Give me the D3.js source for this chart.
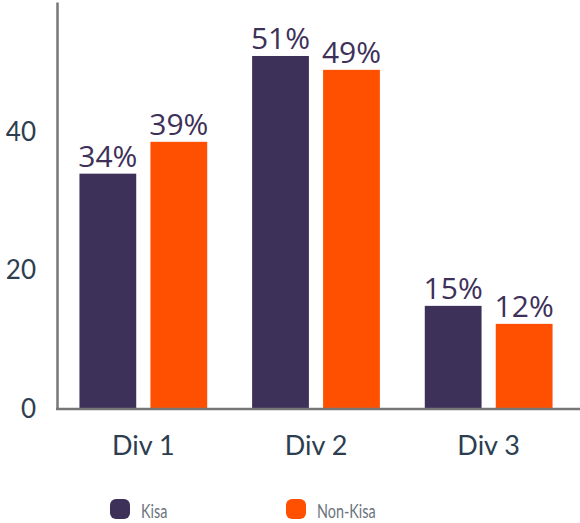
<!DOCTYPE html>
<html>
<head>
<meta charset="utf-8">
<script src="https://cdn.jsdelivr.net/npm/d3@7"></script>
<style>
  body { margin: 0; background: #fff; }
  svg { display: block; }
</style>
</head>
<body>
<div id="chart"></div>
<script>
(function () {

    var categories = ["Div 1", "Div 2", "Div 3"];
    var seriesNames = ["Kisa", "Non-Kisa"];
    var kisaValues = [34, 51, 14.9];
    var nonKisaValues = [38.6, 49, 12.3];
    var kisaLabels = ["34%", "51%", "15%"];
    var nonKisaLabels = ["39%", "49%", "12%"];
    var yTicks = [0, 20, 40];

    var colors = ["#3d3159", "#fe5000"];

    var width = 580;
    var height = 523;
    var left = 57, right = 575, top = 2, bottom = 409;

    var rows = [];
    categories.forEach(function (c, i) {
        rows.push({ cat: c, series: 0, value: kisaValues[i], label: kisaLabels[i] });
        rows.push({ cat: c, series: 1, value: nonKisaValues[i], label: nonKisaLabels[i] });
    });

    var x0 = d3.scaleBand()
        .domain(categories)
        .range([left, right])
        .paddingInner(0.26)
        .paddingOuter(0.13);

    var x1 = d3.scaleBand()
        .domain([0, 1])
        .range([0, x0.bandwidth()])
        .paddingInner(0.2);

    var y = d3.scaleLinear()
        .domain([0, 58.8])
        .range([bottom, top]);

    var svg = d3.select("#chart").append("svg")
        .attr("width", width)
        .attr("height", height);

    // bars
    svg.selectAll("rect.bar")
        .data(rows)
        .enter()
        .append("rect")
        .attr("class", "bar")
        .attr("x", d => x0(d.cat) + x1(d.series))
        .attr("y", d => y(d.value))
        .attr("width", x1.bandwidth())
        .attr("height", d => y(0) - y(d.value))
        .attr("fill", d => colors[d.series]);

    // value labels
    svg.selectAll("text.val")
        .data(rows)
        .enter()
        .append("text")
        .attr("class", "val")
        .attr("x", d => x0(d.cat) + x1(d.series) + x1.bandwidth() / 2)
        .attr("y", d => y(d.value) - 7)
        .attr("text-anchor", "middle")
        .attr("font-family", "'Open Sans', 'Noto Sans', sans-serif")
        .attr("font-size", 30)
        .attr("fill", "#3d3159")
        .text(d => d.label);

    // y axis
    var yAxis = d3.axisLeft(y)
        .tickValues(yTicks)
        .tickSize(0)
        .tickPadding(21)
        .tickFormat(d3.format("d"));

    var gy = svg.append("g")
        .attr("transform", "translate(" + left + ",0)")
        .call(yAxis);
    gy.select(".domain").attr("stroke", "#777").attr("stroke-width", 2.5);
    gy.selectAll("text")
        .attr("font-family", "Lato, sans-serif")
        .attr("font-size", 26)
        .attr("fill", "#2c3e50");

    // x axis
    var xAxis = d3.axisBottom(x0)
        .tickSize(0)
        .tickPadding(27);

    var gx = svg.append("g")
        .attr("transform", "translate(0," + bottom + ")")
        .call(xAxis);
    gx.select(".domain")
        .attr("d", "M" + (left - 1) + ",0H" + width)
        .attr("stroke", "#777").attr("stroke-width", 2.5);
    gx.selectAll("text")
        .attr("font-family", "Lato, sans-serif")
        .attr("font-size", 27)
        .attr("fill", "#2c3e50");

    // legend
    var legendX = [110, 286];
    var legend = svg.selectAll("g.legend")
        .data(seriesNames)
        .enter()
        .append("g")
        .attr("class", "legend")
        .attr("transform", (d, i) => "translate(" + legendX[i] + ",499)");

    legend.append("rect")
        .attr("width", 20)
        .attr("height", 20)
        .attr("rx", 6)
        .attr("fill", (d, i) => colors[i]);

    legend.append("text")
        .attr("transform", "translate(31,19) scale(0.72,1)")
        .attr("font-family", "Lato, sans-serif")
        .attr("font-size", 20)
        .attr("fill", "#6b7580")
        .text(d => d);
})();
</script>
</body>
</html>
